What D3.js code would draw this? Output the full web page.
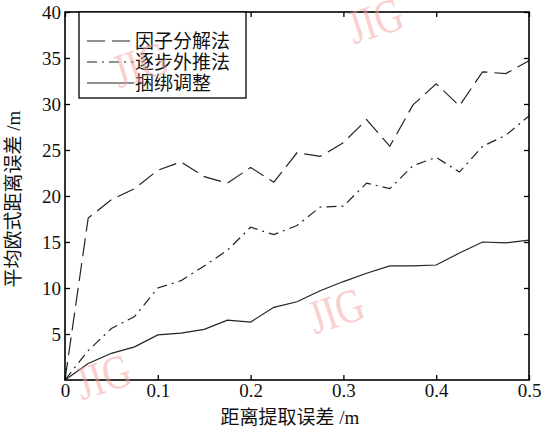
<!DOCTYPE html>
<html>
<head>
<meta charset="utf-8">
<script src="https://cdn.jsdelivr.net/npm/d3@7/dist/d3.min.js"></script>
<style>
  body { margin: 0; background: #fff; }
</style>
</head>
<body>
<div id="chart"></div>
<script>
// x values: distance extraction error (m)
var xVals = [0, 0.025, 0.05, 0.075, 0.1, 0.125, 0.15, 0.175, 0.2, 0.225, 0.25,
             0.275, 0.3, 0.325, 0.35, 0.375, 0.4, 0.425, 0.45, 0.475, 0.5];

// 因子分解法
var factorVals = [0, 17.6, 19.6, 20.8, 22.8, 23.7, 22.1, 21.4, 23.1, 21.5, 24.7,
                  24.3, 25.8, 28.3, 25.4, 29.9, 32.2, 29.8, 33.5, 33.3, 34.7];
// 逐步外推法
var stepVals = [0, 3.2, 5.6, 6.9, 10.0, 10.8, 12.4, 14.1, 16.6, 15.8, 16.8,
                18.8, 18.9, 21.4, 20.8, 23.3, 24.2, 22.6, 25.4, 26.6, 28.7];
// 捆绑调整
var bundleVals = [0, 1.8, 2.9, 3.6, 4.9, 5.1, 5.5, 6.5, 6.3, 7.9, 8.5,
                  9.7, 10.7, 11.6, 12.4, 12.4, 12.5, 13.8, 15.0, 14.9, 15.2];

var seriesNames = ["因子分解法", "逐步外推法", "捆绑调整"];
var xTicks = [0, 0.1, 0.2, 0.3, 0.4, 0.5];
var yTicks = [5, 10, 15, 20, 25, 30, 35, 40];

var FONT = "'Liberation Serif', 'Times New Roman', 'Noto Sans CJK SC', serif";

var svg = d3.select("#chart").append("svg")
  .attr("width", 543)
  .attr("height", 428);

var margin = {top: 12, right: 14, bottom: 48, left: 65},
    width = +svg.attr("width") - margin.left - margin.right,
    height = +svg.attr("height") - margin.top - margin.bottom,
    g = svg.append("g").attr("transform", "translate(" + margin.left + "," + margin.top + ")");

var xScale = d3.scaleLinear().domain([0, 0.5]).range([0, width]);
var yScale = d3.scaleLinear().domain([0, 40]).range([height, 0]);

// line styles for each series
var dashes = ["18,7", "10,5,2,5", null];
var allVals = [factorVals, stepVals, bundleVals];

var line = d3.line()
  .x(function(d, i) { return xScale(xVals[i]); })
  .y(function(d) { return yScale(d); });

allVals.forEach(function(vals, k) {
  g.append("path")
    .datum(vals)
    .attr("d", line)
    .attr("fill", "none")
    .attr("stroke", "#222")
    .attr("stroke-width", 1.2)
    .attr("stroke-dasharray", dashes[k]);
});

// axes, MATLAB style: ticks inside on all four sides
var fmt = function(d) { return d === 0 ? "0" : d3.format(".1f")(d); };

var xAxis = g.append("g")
  .attr("transform", "translate(0," + height + ")")
  .call(d3.axisBottom(xScale).tickValues(xTicks).tickSize(-5).tickPadding(4).tickFormat(fmt));
var yAxis = g.append("g")
  .call(d3.axisLeft(yScale).tickValues(yTicks).tickSize(-5).tickPadding(4).tickFormat(d3.format("d")));
var xTop = g.append("g")
  .call(d3.axisTop(xScale).tickValues(xTicks).tickSize(-5).tickFormat(""));
var yRight = g.append("g")
  .attr("transform", "translate(" + width + ",0)")
  .call(d3.axisRight(yScale).tickValues(yTicks).tickSize(-5).tickFormat(""));

[xAxis, yAxis, xTop, yRight].forEach(function(a) {
  a.attr("font-family", null).attr("font-size", null);
  a.select(".domain").remove();
  a.selectAll("line").attr("stroke", "#000").attr("stroke-width", 1.3);
  a.selectAll("text")
    .style("font-family", FONT)
    .style("font-size", "19px")
    .attr("fill", "#111");
});

// frame
g.append("rect")
  .attr("width", width)
  .attr("height", height)
  .attr("fill", "none")
  .attr("stroke", "#000")
  .attr("stroke-width", 1.6);

// axis titles
svg.append("text")
  .attr("x", margin.left + width / 2 - 7)
  .attr("y", 424)
  .style("text-anchor", "middle")
  .style("font-family", FONT)
  .style("font-size", "19px")
  .attr("fill", "#111")
  .text("距离提取误差 /m");

svg.append("text")
  .attr("transform", "translate(20," + (margin.top + height / 2 + 3) + ") rotate(-90)")
  .style("text-anchor", "middle")
  .style("font-family", FONT)
  .style("font-size", "19px")
  .attr("fill", "#111")
  .text("平均欧式距离误差 /m");

// legend
var legend = svg.append("g").attr("transform", "translate(79,12)");
legend.append("rect")
  .attr("width", 167)
  .attr("height", 86)
  .attr("fill", "#fff")
  .attr("stroke", "#000")
  .attr("stroke-width", 1.3);

var items = legend.selectAll(".legend")
  .data(seriesNames)
  .enter().append("g")
  .attr("class", "legend")
  .attr("transform", function(d, i) { return "translate(0," + (29 + i * 21) + ")"; });

items.append("line")
  .attr("x1", 8)
  .attr("x2", 55)
  .attr("stroke", "#222")
  .attr("stroke-width", 1.2)
  .attr("stroke-dasharray", function(d, i) { return dashes[i]; });

items.append("text")
  .attr("x", 56)
  .attr("dy", ".35em")
  .style("font-family", FONT)
  .style("font-size", "19px")
  .attr("fill", "#111")
  .text(function(d) { return d; });

// JIG watermarks
var marks = [[380, 36], [145, 80], [341, 326], [108, 392]];
marks.forEach(function(p) {
  svg.append("text")
    .attr("transform", "translate(" + p[0] + "," + p[1] + ") rotate(-18) scale(0.8,1)")
    .style("text-anchor", "middle")
    .style("font-family", FONT)
    .style("font-size", "48px")
    .style("fill", "#f4a0a0")
    .style("opacity", 0.5)
    .text("JIG");
});
</script>
</body>
</html>
